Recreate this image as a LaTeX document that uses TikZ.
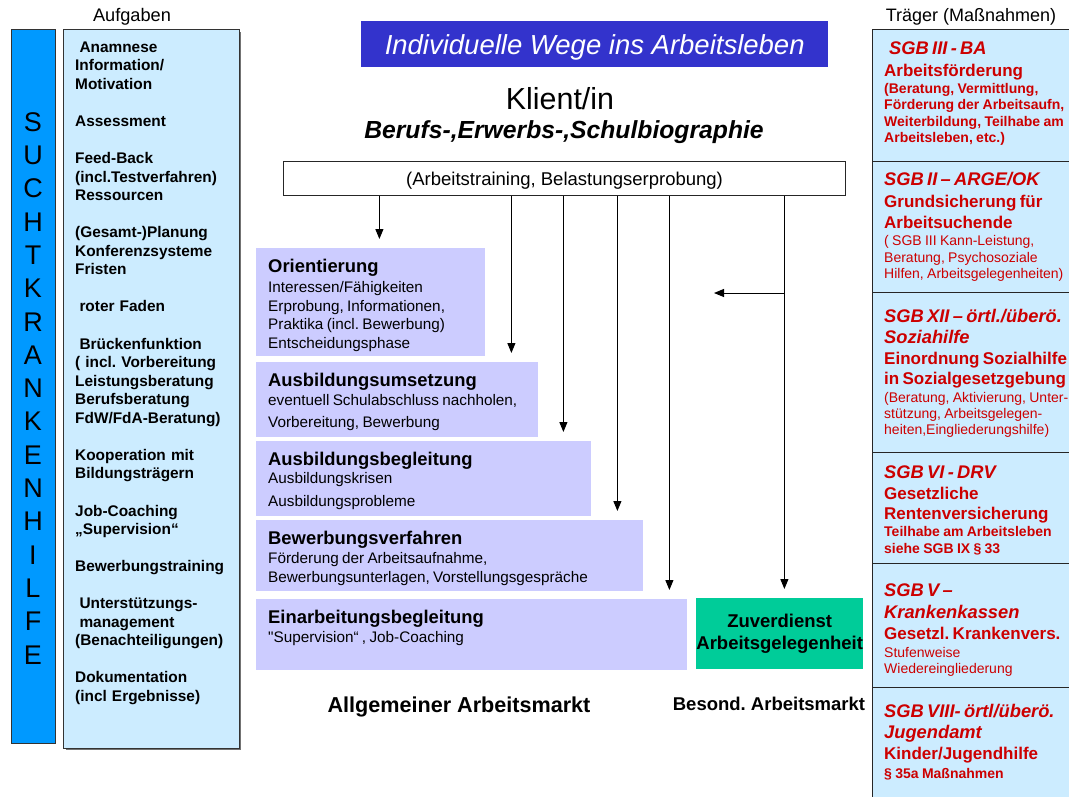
\documentclass[tikz,border=0pt]{standalone}
\usepackage{fontspec}
\setmainfont{Liberation Sans}
\usetikzlibrary{arrows.meta}
\setlength{\parindent}{0pt}
\frenchspacing
\definecolor{suchtblau}{HTML}{0099FF}
\definecolor{hellblau}{HTML}{CCECFF}
\definecolor{lavendel}{HTML}{CCCCFF}
\definecolor{titelblau}{HTML}{3333CC}
\definecolor{zuvgruen}{HTML}{00CC99}
\definecolor{traegerrot}{HTML}{CC0000}
\newcommand{\stagehead}[1]{{\fontsize{18.4}{18.4}\selectfont\bfseries #1\par}}
\newcommand{\stageline}[2][18.5]{{\fontsize{15.3}{#1}\selectfont #2\par}}
\newcommand{\trhead}[2][21]{{\fontsize{18.3}{#1}\selectfont\bfseries\itshape #2\par}}
\newcommand{\trsub}[2][21]{{\fontsize{17}{#1}\selectfont\bfseries #2\par}}
\newcommand{\trsmall}[2][16.5]{{\fontsize{14}{#1}\selectfont #2\par}}
\tikzset{
	column/.style={draw=black!80, line width=1pt, anchor=north west, inner sep=0pt},
	stage/.style={fill=lavendel, anchor=north west, inner sep=0pt},
	stagetext/.style={anchor=north west, inner xsep=12pt, inner ysep=11.4pt,
			text width=420pt, align=left},
	traeger/.style={draw=black!85, line width=1.3pt, fill=hellblau, anchor=north west,
			inner sep=0pt, minimum width=210pt},
	traegertext/.style={anchor=north west, inner sep=0pt, text width=300pt, align=left,
			text=traegerrot},
	arr/.style={line width=1pt, -{Triangle[width=8pt,length=10pt]}, shorten >=9pt}
}

\begin{document}
\begin{tikzpicture}[x=1pt,y=-1pt]
	\useasboundingbox (0,0) rectangle (1069,796);

	% Headings
	\node[font=\fontsize{18.2}{20}\selectfont] (aufglabel) at (132,17) {Aufgaben};
	\node[font=\fontsize{18}{20}\selectfont] (traegerlabel) at (971,17) {Träger (Maßnahmen)};

	% Suchtkrankenhilfe column
	\node[column, fill=suchtblau, minimum width=44pt, minimum height=714pt] (sucht) at (11,29) {};
	\foreach \ch [count=\i from 0] in {S,U,C,H,T,K,R,A,N,K,E,N,H,I,L,F,E}
		\node[font=\fontsize{27}{27}\selectfont] (sucht\i) at (33,122+33.3*\i) {\ch};

	% Aufgaben column
	\fill[black!55] (65.5,31.5) rectangle (241,750);
	\node[column, fill=hellblau, minimum width=176pt, minimum height=719pt] (aufg) at (63,29) {};
	\node[anchor=north west, inner sep=0pt, text width=175pt, align=left,
		font=\fontsize{15.4}{18.55}\selectfont\bfseries] (aufgtxt) at (75,41.5) {%
		\hspace*{4.3pt}Anamnese\\
		Information/\\
		Motivation\\[18.55pt]
		Assessment\\[18.55pt]
		Feed-Back\\
		(incl.Testverfahren)\\
		Ressourcen\\[18.55pt]
		(Gesamt-)Planung\\
		Konferenzsysteme\\
		Fristen\\[18.55pt]
		\hspace*{4.3pt}roter Faden\\[18.55pt]
		\hspace*{4.3pt}Brückenfunktion\\
		( incl. Vorbereitung\\
		Leistungsberatung\\
		Berufsberatung\\
		FdW/FdA-Beratung)\\[18.55pt]
		Kooperation mit\\
		Bildungsträgern\\[18.55pt]
		Job-Coaching\\
		„Supervision“\\[18.55pt]
		Bewerbungstraining\\[18.55pt]
		\hspace*{4.3pt}Unterstützungs-\\
		\hspace*{4.3pt}management\\
		(Benachteiligungen)\\[18.55pt]
		Dokumentation\\
		(incl Ergebnisse)};

	% Title and client
	\node[anchor=north west, fill=titelblau, inner sep=0pt, minimum width=467pt, minimum height=46pt,
		text=white, text depth=0pt, font=\fontsize{27.5}{30}\selectfont\itshape] (title) at (361,21)
		{Individuelle Wege ins Arbeitsleben};
	\node[font=\fontsize{30.4}{32}\selectfont] (klient) at (560,99) {Klient/in};
	\node[font=\fontsize{24.7}{27}\selectfont\bfseries\itshape] (biogr) at (564,132)
		{Berufs-,Erwerbs-,Schulbiographie};
	\node[anchor=north west, draw=black!85, line width=1.2pt, fill=white, inner sep=0pt,
		minimum width=562pt, minimum height=34pt, text depth=0pt,
		font=\fontsize{18.5}{20}\selectfont] (training) at (283,161)
		{(Arbeitstraining, Belastungserprobung)};

	% Stages
	\node[stage, minimum width=229pt, minimum height=108pt] (orient) at (256,248) {};
	\node[stage, minimum width=282pt, minimum height=75pt] (umsetz) at (256,362) {};
	\node[stage, minimum width=335pt, minimum height=75pt] (begleit) at (256,441) {};
	\node[stage, minimum width=387pt, minimum height=71pt] (bewerb) at (256,520) {};
	\node[stage, minimum width=431pt, minimum height=71pt] (einarb) at (256,599) {};
	\node[anchor=north west, fill=zuvgruen, inner sep=0pt, minimum width=167pt, minimum height=71pt,
		align=center, font=\fontsize{18.5}{22}\selectfont\bfseries] (zuver) at (696,598)
		{Zuverdienst\\Arbeitsgelegenheit};

	\node[stagetext] (orienttxt) at (orient.north west) {%
		\stagehead{Orientierung}
		\stageline[20]{Interessen/Fähigkeiten}
		\stageline{Erprobung, Informationen,}
		\stageline{Praktika (incl. Bewerbung)}
		\stageline{Entscheidungsphase}};
	\node[stagetext] (umsetztxt) at (umsetz.north west) {%
		\stagehead{Ausbildungsumsetzung}
		\stageline[19]{eventuell Schulabschluss nachholen,}
		\stageline[22]{Vorbereitung, Bewerbung}};
	\node[stagetext] (begleittxt) at (begleit.north west) {%
		\stagehead{Ausbildungsbegleitung}
		\stageline[18]{Ausbildungskrisen}
		\stageline[23]{Ausbildungsprobleme}};
	\node[stagetext] (bewerbtxt) at (bewerb.north west) {%
		\stagehead{Bewerbungsverfahren}
		\stageline[19]{Förderung der Arbeitsaufnahme,}
		\stageline[19]{Bewerbungsunterlagen, Vorstellungsgespräche}};
	\node[stagetext] (einarbtxt) at (einarb.north west) {%
		\stagehead{Einarbeitungsbegleitung}
		\stageline[19]{\textquotedbl Supervision“ , Job-Coaching}};

	% Arrows
	\foreach \target/\dx in {orient/-106, umsetz/-27, begleit/-28, bewerb/-26, einarb/-18, zuver/-79}
		\draw[arr] ([xshift=\dx pt]\target.north east |- training.south) -- ([xshift=\dx pt]\target.north east);
	\coordinate (sidetip) at (714,293);
	\draw[arr, shorten >=0pt] ([xshift=-79pt]zuver.north east |- sidetip) -- (sidetip);

	% Markets
	\node[font=\fontsize{21.6}{24}\selectfont\bfseries] (allgmarkt) at (459,707) {Allgemeiner Arbeitsmarkt};
	\node[font=\fontsize{18.5}{20}\selectfont\bfseries] (besmarkt) at (769,704) {Besond. Arbeitsmarkt};

	% Traeger column
	\node[traeger, minimum height=132pt] (trg1) at (872,29) {};
	\node[traeger, minimum height=131pt] (trg2) at (872,161) {};
	\node[traeger, minimum height=160pt] (trg3) at (872,292) {};
	\node[traeger, minimum height=111pt] (trg4) at (872,452) {};
	\node[traeger, minimum height=124pt] (trg5) at (872,563) {};
	\node[traeger, minimum height=120pt] (trg6) at (872,687) {};

	\node[traegertext] (trg1txt) at (884,41.2) {%
		\trhead{\hspace*{5pt}SGB III - BA}
		\trsub[22]{Arbeitsförderung}
		\trsmall[17]{\bfseries (Beratung, Vermittlung,}
		\trsmall{\bfseries Förderung der Arbeitsaufn,}
		\trsmall{\bfseries Weiterbildung, Teilhabe am}
		\trsmall{\bfseries Arbeitsleben, etc.)}};
	\node[traegertext] (trg2txt) at (884,172.2) {%
		\trhead{SGB II – ARGE/OK}
		\trsub[22]{Grundsicherung für}
		\trsub[21]{Arbeitsuchende}
		\trsmall[17]{( SGB III Kann-Leistung,}
		\trsmall[17]{Beratung, Psychosoziale}
		\trsmall[16]{Hilfen, Arbeitsgelegenheiten)}};
	\node[traegertext] (trg3txt) at (884,309.2) {%
		\trhead{SGB XII – örtl./überö.}
		\trhead[21]{Soziahilfe}
		\trsub[21]{Einordnung Sozialhilfe}
		\trsub[20]{in Sozialgesetzgebung}
		\trsmall[18]{(Beratung, Aktivierung, Unter-}
		\trsmall[16]{stützung, Arbeitsgelegen-}
		\trsmall[16]{heiten,Eingliederungshilfe)}};
	\node[traegertext] (trg4txt) at (884,465.2) {%
		\trhead{SGB VI - DRV}
		\trsub[21]{Gesetzliche}
		\trsub[20]{Rentenversicherung}
		\trsmall[17]{\bfseries Teilhabe am Arbeitsleben}
		\trsmall[17]{\bfseries siehe SGB IX § 33}};
	\node[traegertext] (trg5txt) at (884,583.2) {%
		\trhead{SGB V –}
		\trhead[22]{Krankenkassen}
		\trsub[21]{Gesetzl. Krankenvers.}
		\trsmall[18]{Stufenweise}
		\trsmall[16]{Wiedereingliederung}};
	\node[traegertext] (trg6txt) at (884,704.2) {%
		\trhead{SGB VIII- örtl/überö.}
		\trhead[21]{Jugendamt}
		\trsub[21]{Kinder/Jugendhilfe}
		\trsmall[19]{\bfseries § 35a Maßnahmen}};
\end{tikzpicture}
\end{document}
